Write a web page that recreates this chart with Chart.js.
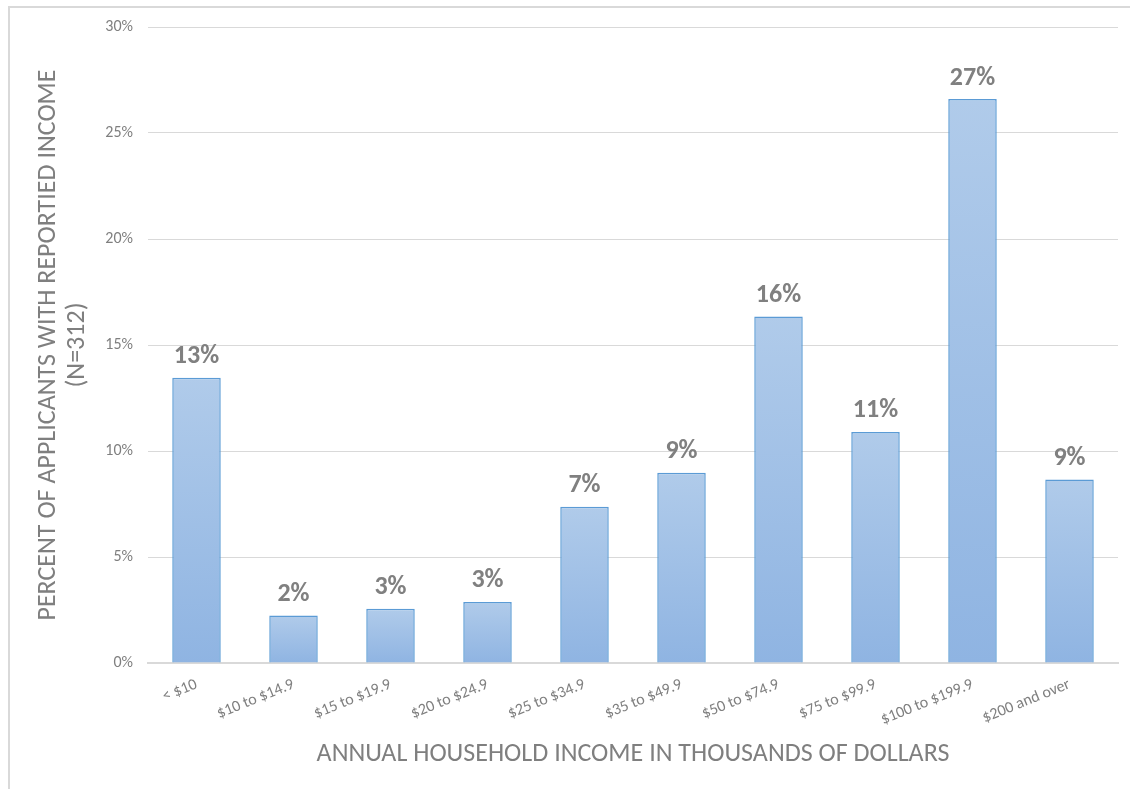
<!DOCTYPE html>
<html>
<head>
<meta charset="utf-8">
<script src="https://cdn.jsdelivr.net/npm/chart.js@4/dist/chart.umd.min.js"></script>
<style>
  html, body { margin: 0; padding: 0; background: #fff; }
  #wrap { position: relative; width: 1130px; height: 789px; }
  #frame { position: absolute; left: 8px; top: 6px; right: 0; bottom: 0; border-left: 2px solid #d9d9d9; border-top: 2px solid #d9d9d9; }
  canvas { position: absolute; left: 0; top: 0; }
</style>
</head>
<body>
<div id="wrap">
  <div id="frame"></div>
  <canvas id="c" width="1130" height="789"></canvas>
</div>
<script>
const categories = ['< $10', '$10 to $14.9', '$15 to $19.9', '$20 to $24.9', '$25 to $34.9',
  '$35 to $49.9', '$50 to $74.9', '$75 to $99.9', '$100 to $199.9', '$200 and over'];
const percentValues = [13.46, 2.24, 2.56, 2.88, 7.37, 8.97, 16.35, 10.90, 26.60, 8.65];
const dataLabels = ['13%', '2%', '3%', '3%', '7%', '9%', '16%', '11%', '27%', '9%'];
const yTicks = [0, 5, 10, 15, 20, 25, 30];

const FONT = "Carlito, Lato, 'Liberation Sans', sans-serif";

const labelPlugin = {
  id: 'barLabels',
  afterDatasetsDraw(chart) {
    const ctx = chart.ctx;
    const meta = chart.getDatasetMeta(0);
    ctx.save();
    ctx.font = 'bold 26px ' + FONT;
    ctx.fillStyle = '#808080';
    ctx.textAlign = 'center';
    ctx.textBaseline = 'middle';
    meta.data.forEach((el, i) => {
      ctx.fillText(dataLabels[i], el.x, el.y - 21);
    });
    ctx.restore();
  }
};

new Chart(document.getElementById('c'), {
  type: 'bar',
  data: {
    labels: categories,
    datasets: [{
      data: percentValues,
      backgroundColor(context) {
        const chart = context.chart;
        const y = chart.scales.y;
        if (!y || context.raw === undefined) return '#a3c1e8';
        const top = y.getPixelForValue(context.raw);
        const base = y.getPixelForValue(0);
        if (!isFinite(top) || !isFinite(base) || top === base) return '#a3c1e8';
        const g = chart.ctx.createLinearGradient(0, top, 0, base);
        g.addColorStop(0, '#b0cbea');
        g.addColorStop(1, '#8fb4e2');
        return g;
      },
      borderColor: '#5b9bd5',
      borderWidth: 1.5,
      barPercentage: 0.5,
      categoryPercentage: 1.0
    }]
  },
  options: {
    responsive: false,
    animation: false,
    devicePixelRatio: 1,
    layout: { padding: { left: 0, right: 12, top: 27, bottom: 0 } },
    plugins: { legend: { display: false }, tooltip: { enabled: false } },
    scales: {
      x: {
        grid: { display: false, drawTicks: false },
        border: { display: true, color: '#d9d9d9', width: 2 },
        ticks: {
          color: '#7f7f7f',
          font: { family: FONT, size: 16 },
          minRotation: 22, maxRotation: 22,
          autoSkip: false,
          padding: 12
        },
        title: {
          display: true,
          text: 'ANNUAL HOUSEHOLD INCOME IN THOUSANDS OF DOLLARS',
          color: '#7f7f7f',
          font: { family: FONT, size: 26 },
          padding: { top: 0, bottom: 19 }
        },
        afterFit(scale) { scale.height = 126; }
      },
      y: {
        min: 0, max: 30,
        afterBuildTicks(scale) { scale.ticks = yTicks.map(v => ({ value: v })); },
        grid: { color: '#d9d9d9', lineWidth: 1, drawTicks: false },
        border: { display: false },
        ticks: {
          color: '#7f7f7f',
          font: { family: FONT, size: 16 },
          padding: 15,
          callback: v => v + '%'
        },
        title: {
          display: true,
          text: ['PERCENT OF APPLICANTS WITH REPORTIED INCOME', '(N=312)'],
          color: '#7f7f7f',
          font: { family: FONT, size: 26, lineHeight: 1.12 },
          padding: { top: 34, bottom: 0 }
        },
        afterFit(scale) { scale.width = 148; }
      }
    }
  },
  plugins: [labelPlugin]
});
</script>
</body>
</html>
